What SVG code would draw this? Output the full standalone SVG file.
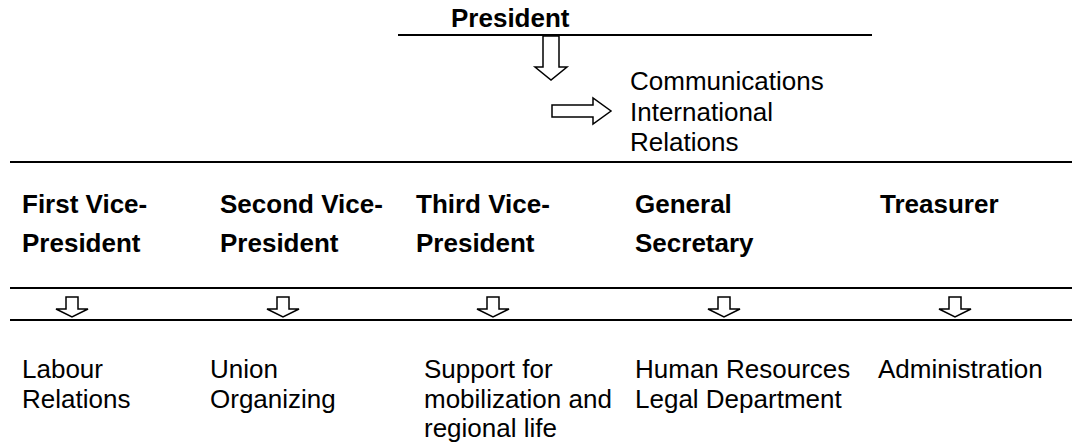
<svg xmlns="http://www.w3.org/2000/svg" width="1072" height="443" viewBox="0 0 1072 443">
<style>
text{font-family:"Liberation Sans",Arial,sans-serif;font-size:26px;fill:#000}
.b{font-weight:bold}
.ln{stroke:#000;stroke-width:2}
.ar{fill:#fff;stroke:#000;stroke-width:1.5;stroke-linejoin:miter}
</style>
<rect width="1072" height="443" fill="#fff"/>
<g id="connectors">
<line class="ln" x1="398" y1="35" x2="872" y2="35"/>
<line class="ln" x1="10" y1="162" x2="1072" y2="162"/>
<line class="ln" x1="10" y1="288" x2="1072" y2="288"/>
<line class="ln" x1="10" y1="320" x2="1072" y2="320"/>
<path class="ar" d="M543,36 H559 V67 H567 L551,80 L535,67 H543 Z"/>
<path class="ar" d="M552,105 H593 V98 L611,111 L593,124 V117 H552 Z"/>
<path class="ar" d="M66,297 H78 V309 H88 L72,317 L56,309 H66 Z"/>
<path class="ar" d="M277,297 H289 V309 H299 L283,317 L267,309 H277 Z"/>
<path class="ar" d="M487,297 H499 V309 H509 L493,317 L477,309 H487 Z"/>
<path class="ar" d="M718,297 H730 V309 H740 L724,317 L708,309 H718 Z"/>
<path class="ar" d="M949,297 H961 V309 H971 L955,317 L939,309 H949 Z"/>
</g>
<g id="president"><text class="b" x="451" y="27">President</text></g>
<g id="staff"><text x="630" y="90">Communications</text><text x="630" y="121">International</text><text x="630" y="151">Relations</text></g>
<g id="vp1"><text class="b" x="22" y="213">First Vice-</text><text class="b" x="22" y="252">President</text></g>
<g id="vp2"><text class="b" x="220" y="213">Second Vice-</text><text class="b" x="220" y="252">President</text></g>
<g id="vp3"><text class="b" x="416" y="213">Third Vice-</text><text class="b" x="416" y="252">President</text></g>
<g id="gensec"><text class="b" x="635" y="213">General</text><text class="b" x="635" y="252">Secretary</text></g>
<g id="treasurer"><text class="b" x="880" y="213">Treasurer</text></g>
<g id="labour"><text x="22" y="378">Labour</text><text x="22" y="408">Relations</text></g>
<g id="union"><text x="210" y="378">Union</text><text x="210" y="408">Organizing</text></g>
<g id="support"><text x="424" y="378">Support for</text><text x="424" y="408">mobilization and</text><text x="424" y="437">regional life</text></g>
<g id="hr"><text x="635" y="378">Human Resources</text><text x="635" y="408">Legal Department</text></g>
<g id="admin"><text x="878" y="378">Administration</text></g>
</svg>
